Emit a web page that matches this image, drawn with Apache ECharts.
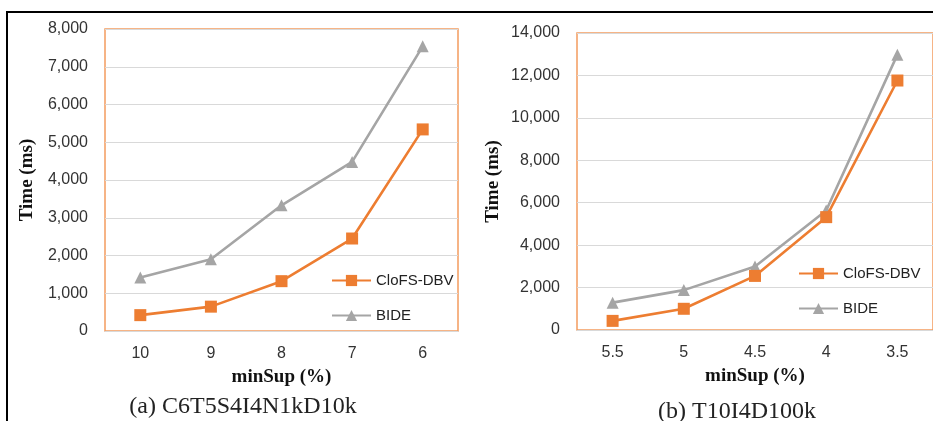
<!DOCTYPE html>
<html>
<head>
<meta charset="utf-8">
<script src="https://cdn.jsdelivr.net/npm/echarts@6/dist/echarts.min.js"></script>
<style>
  html, body { margin: 0; padding: 0; background: #fff; }
  #chart { width: 933px; height: 421px; }
</style>
</head>
<body>
<div id="chart"></div>
<script>
// (a) C6T5S4I4N1kD10k
const catsA = ["10", "9", "8", "7", "6"];
const clofsA = [420, 645, 1320, 2450, 5340];
const bideA = [1420, 1900, 3330, 4480, 7540];

// (b) T10I4D100k
const catsB = ["5.5", "5", "4.5", "4", "3.5"];
const clofsB = [430, 1000, 2550, 5320, 11760];
const bideB = [1290, 1880, 2990, 5630, 12980];

const seriesNames = ["CloFS-DBV", "BIDE"];

const orange = "#ED7D31";
const gray = "#A5A5A5";
const tickFont = { fontFamily: "Liberation Sans", fontSize: 16, color: "#333" };
const nameFont = { fontFamily: "Liberation Serif", fontSize: 19, fontWeight: "bold", color: "#111" };

function fmt(v) {
  return v.toLocaleString("en-US");
}

function xAxis(idx, cats) {
  return {
    type: "category",
    gridIndex: idx,
    data: cats,
    name: "minSup (%)",
    nameLocation: "middle",
    nameGap: 37,
    nameTextStyle: nameFont,
    axisTick: { show: false },
    axisLine: { lineStyle: { color: "#D9D9D9", width: 1 } },
    axisLabel: Object.assign({ margin: 15 }, tickFont)
  };
}

function yAxis(idx, max, interval, gap) {
  return {
    type: "value",
    gridIndex: idx,
    min: 0,
    max: max,
    interval: interval,
    name: "Time (ms)",
    nameLocation: "middle",
    nameGap: gap,
    nameTextStyle: nameFont,
    axisLine: { show: false },
    axisTick: { show: false },
    splitLine: { lineStyle: { color: "#D9D9D9", width: 1 } },
    axisLabel: Object.assign({ margin: 17, formatter: fmt }, tickFont)
  };
}

function lineSeries(name, idx, data, color, symbol) {
  return {
    name: name,
    type: "line",
    xAxisIndex: idx,
    yAxisIndex: idx,
    data: data,
    symbol: symbol,
    symbolSize: 12,
    lineStyle: { color: color, width: 2.6 },
    itemStyle: { color: color },
    z: name === "CloFS-DBV" ? 3 : 2
  };
}

const chart = echarts.init(document.getElementById("chart"));

const option = {
  animation: false,
  grid: [
    { left: 105, top: 29, width: 353, height: 302, show: true, borderColor: "#F39C5F", borderWidth: 1.5 },
    { left: 577, top: 33, width: 358, height: 297, show: true, borderColor: "#F39C5F", borderWidth: 1.5 }
  ],
  xAxis: [xAxis(0, catsA), xAxis(1, catsB)],
  yAxis: [yAxis(0, 8000, 1000, 68), yAxis(1, 14000, 2000, 74)],
  legend: [
    {
      data: seriesNames,
      orient: "vertical",
      left: 331,
      top: 273,
      padding: 0,
      itemWidth: 39,
      itemHeight: 14,
      itemGap: 20,
      textStyle: { fontFamily: "Liberation Sans", fontSize: 15, color: "#222" }
    },
    {
      data: seriesNames,
      orient: "vertical",
      left: 798,
      top: 266,
      padding: 0,
      itemWidth: 39,
      itemHeight: 14,
      itemGap: 20,
      textStyle: { fontFamily: "Liberation Sans", fontSize: 15, color: "#222" }
    }
  ],
  series: [
    lineSeries("CloFS-DBV", 0, clofsA, orange, "rect"),
    lineSeries("BIDE", 0, bideA, gray, "triangle"),
    lineSeries("CloFS-DBV", 1, clofsB, orange, "rect"),
    lineSeries("BIDE", 1, bideB, gray, "triangle")
  ],
  graphic: [
    { type: "line", shape: { x1: 7, y1: 12, x2: 933, y2: 12 }, style: { stroke: "#000", lineWidth: 2 } },
    { type: "line", shape: { x1: 7, y1: 11, x2: 7, y2: 421 }, style: { stroke: "#000", lineWidth: 2 } },
    {
      type: "text", x: 243, y: 407,
      style: { text: "(a) C6T5S4I4N1kD10k", font: "24px 'Liberation Serif'", fill: "#222", textAlign: "center", textVerticalAlign: "middle" }
    },
    {
      type: "text", x: 737, y: 412,
      style: { text: "(b) T10I4D100k", font: "24px 'Liberation Serif'", fill: "#222", textAlign: "center", textVerticalAlign: "middle" }
    }
  ]
};

chart.setOption(option);
</script>
</body>
</html>
